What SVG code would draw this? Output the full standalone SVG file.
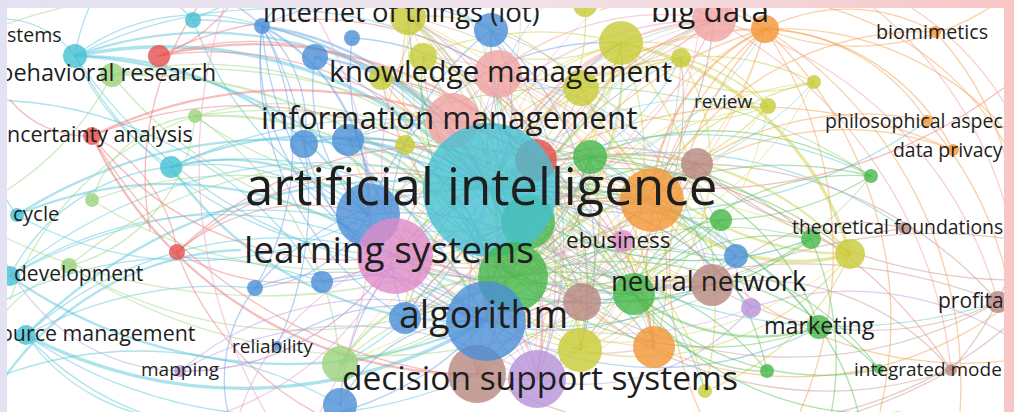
<svg xmlns="http://www.w3.org/2000/svg" width="1014" height="412" viewBox="0 0 1014 412">
<defs>
  <linearGradient id="frameFill" x1="0" y1="0" x2="1" y2="0">
    <stop offset="0" stop-color="#e3e2f3"/>
    <stop offset="0.5" stop-color="#f1e3ea"/>
    <stop offset="1" stop-color="#f8c6c6"/>
  </linearGradient>
  <clipPath id="plot"><rect x="7" y="8" width="997" height="404"/></clipPath>
</defs>
<style>
  #connectors path{fill:none;stroke-width:1.3;stroke-opacity:.5;stroke-linecap:round}
  #connectors path.m{stroke-width:2.3}
  #connectors path.t{stroke-width:3.4}
  #connectors .x path{stroke-width:1;stroke-opacity:.45}
  .cy path{stroke:#5cc8dc}
  .lg path{stroke:#9fd785}
  .rd path{stroke:#ee7b7b}
  .bl path{stroke:#6ea5e3}
  .ol path{stroke:#cfd24a}
  .or path{stroke:#f4a352}
  .lr path{stroke:#f2a3a3}
  .pk path{stroke:#ee9fcb}
  .pu path{stroke:#c0a0e2}
  .br path{stroke:#c99a92}
  .gr path{stroke:#62c360}
  .node circle{fill-opacity:.8}
  .cyn{fill:#45c1d3}.lgn{fill:#9ad37c}.rdn{fill:#e5504e}.bln{fill:#4a8fd7}
  .oln{fill:#c8cc36}.orn{fill:#f39636}.pkn{fill:#df8bc8}.lrn{fill:#f0a3a3}
  .pun{fill:#b892da}.brn{fill:#b88780}.grn{fill:#45b649}
  #labels text{font-family:"Open Sans","Noto Sans","DejaVu Sans",sans-serif;fill:#1e1e1e}
</style>

<!-- frame and white plotting area -->
<rect x="0" y="0" width="1014" height="412" fill="url(#frameFill)"/>
<rect x="7" y="8" width="997" height="404" fill="#ffffff"/>

<g clip-path="url(#plot)">
<g id="connectors">
  <g class="cy">
    <path class="t" d="M75 56A440 440 0 0 1 490 190"/>
    <path class="m" d="M75 56A340 340 0 0 1 368 215"/>
    <path d="M75 56A380 380 0 0 0 395 256"/>
    <path class="m" d="M75 56A490 490 0 0 1 486 321"/>
    <path class="m" d="M75 56A390 390 0 0 1 453 120"/>
    <path d="M75 56A500 500 0 0 0 513 277"/>
    <path d="M75 56A430 430 0 0 1 498 74"/>
    <path d="M75 56A200 200 0 0 1 262 26"/>
    <path d="M75 56A90 90 0 0 0 -10 20"/>
    <path d="M75 56A200 200 0 0 1 95 -5"/>
    <path d="M193 20A340 340 0 0 1 490 190"/>
    <path d="M193 20A300 300 0 0 1 491 30"/>
    <path d="M193 20A100 100 0 0 0 150 -10"/>
    <path d="M193 20A350 350 0 0 0 368 215"/>
    <path class="m" d="M171 167A330 330 0 0 1 490 190"/>
    <path class="m" d="M171 167A210 210 0 0 1 368 215"/>
    <path class="m" d="M171 167A360 360 0 0 0 486 321"/>
    <path d="M171 167A240 240 0 0 1 395 256"/>
    <path d="M171 167A360 360 0 0 1 513 277"/>
    <path d="M171 167A490 490 0 0 1 652 200"/>
    <path d="M171 167A200 200 0 0 0 10 276"/>
    <path d="M171 167A250 250 0 0 1 75 56"/>
    <path class="m" d="M17 215A480 480 0 0 1 490 190"/>
    <path d="M17 215A360 360 0 0 0 368 215"/>
    <path class="m" d="M17 215A390 390 0 0 1 395 256"/>
    <path d="M17 215A100 100 0 0 1 -5 140"/>
    <path d="M10 276A500 500 0 0 1 490 190"/>
    <path class="m" d="M10 276A480 480 0 0 0 486 321"/>
    <path d="M10 276A390 390 0 0 1 395 256"/>
    <path d="M10 276A510 510 0 0 1 513 277"/>
    <path class="m" d="M26 335A520 520 0 0 1 490 190"/>
    <path class="t" d="M26 335A470 470 0 0 0 486 321"/>
    <path d="M26 335A460 460 0 0 0 477 374"/>
    <path d="M26 335A380 380 0 0 1 395 256"/>
    <path d="M26 335A300 300 0 0 0 330 420"/>
    <path d="M26 335A200 200 0 0 0 180 420"/>
    <path d="M26 335A400 400 0 0 1 255 288"/>
    <path class="m" d="M-20 420A300 300 0 0 1 240 250"/>
    <path d="M-10 100A400 400 0 0 1 322 282"/>
    <path d="M5 300A400 400 0 0 1 322 282"/>
    <path d="M-10 380A400 400 0 0 1 340 405"/>
    <path d="M490 190A400 400 0 0 1 871 176"/>
    <path d="M490 190A520 520 0 0 0 998 302"/>
    <path d="M490 190A350 350 0 0 1 819 327"/>
    <path d="M490 190A420 420 0 0 1 904 228"/>
    <path d="M368 215A380 380 0 0 1 736 256"/>
    <path d="M490 190A300 300 0 0 1 751 308"/>
    <path d="M490 190A250 250 0 0 0 582 302"/>
    <path d="M490 190A300 300 0 0 1 705 391"/>
    <path d="M490 190A250 250 0 0 0 681 58"/>
    <path d="M490 190A300 300 0 0 1 340 364"/>
    <path d="M490 190A500 500 0 0 0 927 121"/>
  </g>
  <g class="lg">
    <path class="m" d="M112 75A460 460 0 0 1 513 277"/>
    <path d="M112 75A390 390 0 0 1 490 190"/>
    <path d="M112 75A420 420 0 0 0 528 222"/>
    <path d="M112 75A540 540 0 0 1 634 294"/>
    <path d="M112 75A300 300 0 0 1 -10 200"/>
    <path class="m" d="M195 116A360 360 0 0 1 513 277"/>
    <path d="M195 116A400 400 0 0 0 590 157"/>
    <path d="M195 116A460 460 0 0 1 634 294"/>
    <path d="M195 116A300 300 0 0 1 490 190"/>
    <path d="M195 116A170 170 0 0 1 69 266"/>
    <path d="M195 116A120 120 0 0 0 92 200"/>
    <path d="M195 116A330 330 0 0 1 340 364"/>
    <path d="M195 116A300 300 0 0 0 10 300"/>
    <path d="M92 200A430 430 0 0 1 513 277"/>
    <path d="M92 200A440 440 0 0 0 528 222"/>
    <path d="M69 266A450 450 0 0 0 513 277"/>
    <path d="M69 266A430 430 0 0 1 490 190"/>
    <path d="M69 266A570 570 0 0 0 634 294"/>
    <path d="M69 266A200 200 0 0 0 -10 330"/>
    <path class="m" d="M340 364A200 200 0 0 1 513 277"/>
    <path d="M340 364A320 320 0 0 1 634 294"/>
    <path d="M340 364A300 300 0 0 0 590 157"/>
    <path d="M-10 30A600 600 0 0 1 270 -5"/>
    <path d="M-10 230A600 600 0 0 0 400 280"/>
  </g>
  <g class="rd">
    <path class="m" d="M159 56A400 400 0 0 1 536 160"/>
    <path d="M159 56A350 350 0 0 1 490 190"/>
    <path d="M159 56A300 300 0 0 1 453 120"/>
    <path d="M159 56A340 340 0 0 1 498 74"/>
    <path d="M159 56A150 150 0 0 0 240 -10"/>
    <path d="M210 -10A300 300 0 0 0 150 230"/>
    <path class="m" d="M92 136A460 460 0 0 1 536 160"/>
    <path d="M92 136A400 400 0 0 1 490 190"/>
    <path class="m" d="M92 136A420 420 0 0 0 477 374"/>
    <path d="M92 136A320 320 0 0 0 395 256"/>
    <path d="M92 136A150 150 0 0 1 177 252"/>
    <path d="M92 136A500 500 0 0 0 537 379"/>
    <path d="M92 136A100 100 0 0 1 10 100"/>
    <path d="M177 252A370 370 0 0 1 536 160"/>
    <path d="M177 252A320 320 0 0 1 490 190"/>
    <path d="M177 252A220 220 0 0 0 395 256"/>
    <path d="M177 252A200 200 0 0 1 368 215"/>
    <path d="M177 252A300 300 0 0 0 330 420"/>
    <path d="M536 160A460 460 0 0 1 951 370"/>
    <path d="M536 160A500 500 0 0 0 1014 80"/>
    <path d="M536 160A250 250 0 0 1 405 318"/>
    <path d="M536 160A250 250 0 0 0 381 78"/>
    <path d="M536 160A250 250 0 0 1 654 347"/>
  </g>
  <g class="bl">
    <path class="m" d="M262 26A300 300 0 0 1 490 190"/>
    <path d="M262 26A340 340 0 0 0 486 321"/>
    <path class="m" d="M262 26A200 200 0 0 1 368 215"/>
    <path d="M262 26A270 270 0 0 1 255 288"/>
    <path d="M262 26A330 330 0 0 1 513 277"/>
    <path d="M262 26A220 220 0 0 0 395 256"/>
    <path d="M262 26A130 130 0 0 1 304 144"/>
    <path d="M262 26A250 250 0 0 1 491 30"/>
    <path d="M262 26A300 300 0 0 0 405 318"/>
    <path d="M262 26A150 150 0 0 0 200 -10"/>
    <path d="M262 26A100 100 0 0 1 300 -10"/>
    <path d="M262 26A350 350 0 0 1 277 346"/>
    <path class="m" d="M315 57A220 220 0 0 1 490 190"/>
    <path d="M315 57A300 300 0 0 1 486 321"/>
    <path d="M315 57A180 180 0 0 0 368 215"/>
    <path class="m" d="M304 144A200 200 0 0 1 490 190"/>
    <path d="M304 144A250 250 0 0 0 486 321"/>
    <path d="M255 288A240 240 0 0 1 486 321"/>
    <path d="M255 288A280 280 0 0 1 490 190"/>
    <path d="M255 288A140 140 0 0 0 368 215"/>
    <path d="M255 288A150 150 0 0 0 230 420"/>
    <path d="M322 282A170 170 0 0 1 486 321"/>
    <path d="M322 282A200 200 0 0 0 490 190"/>
    <path d="M277 346A220 220 0 0 1 486 321"/>
    <path d="M340 405A150 150 0 0 1 486 321"/>
    <path d="M340 405A250 250 0 0 1 490 190"/>
    <path d="M736 256A260 260 0 0 1 486 321"/>
    <path d="M736 256A260 260 0 0 0 490 190"/>
    <path d="M486 321A340 340 0 0 0 819 327"/>
    <path class="m" d="M348 140A150 150 0 0 1 486 321"/>
    <path d="M491 30A160 160 0 0 1 490 190"/>
    <path d="M352 38A300 300 0 0 0 486 321"/>
    <path d="M491 30A300 300 0 0 1 580 350"/>
    <path d="M491 30A250 250 0 0 0 405 318"/>
    <path d="M352 38A250 250 0 0 1 580 350"/>
    <path d="M348 140A300 300 0 0 1 652 200"/>
    <path d="M368 215A300 300 0 0 1 654 347"/>
    <path d="M368 215A250 250 0 0 1 621 43"/>
    <path d="M405 318A250 250 0 0 1 652 200"/>
    <path d="M486 321A300 300 0 0 1 300 420"/>
  </g>
  <g class="ol">
    <path class="t" d="M850 254A300 300 0 0 0 621 43"/>
    <path class="m" d="M850 254A300 300 0 0 1 581 88"/>
    <path d="M850 254A270 270 0 0 1 580 350"/>
    <path d="M850 254A370 370 0 0 0 490 190"/>
    <path class="t" d="M850 254A200 200 0 0 1 652 200"/>
    <path class="m" d="M850 254A300 300 0 0 0 590 157"/>
    <path d="M850 254A260 260 0 0 1 705 391"/>
    <path d="M814 82A200 200 0 0 1 621 43"/>
    <path d="M814 82A250 250 0 0 0 581 88"/>
    <path d="M814 82A300 300 0 0 0 580 350"/>
    <path d="M768 106A160 160 0 0 0 621 43"/>
    <path d="M768 106A200 200 0 0 1 581 88"/>
    <path d="M768 106A300 300 0 0 1 490 190"/>
    <path d="M768 106A200 200 0 0 0 681 58"/>
    <path class="m" d="M621 43A200 200 0 0 1 490 190"/>
    <path d="M621 43A300 300 0 0 0 486 321"/>
    <path d="M621 43A250 250 0 0 1 513 277"/>
    <path d="M621 43A310 310 0 0 1 580 350"/>
    <path d="M408 17A200 200 0 0 1 490 190"/>
    <path d="M408 17A320 320 0 0 1 486 321"/>
    <path d="M408 17A220 220 0 0 0 621 43"/>
    <path d="M408 17A200 200 0 0 1 581 88"/>
    <path d="M408 17A300 300 0 0 0 580 350"/>
    <path d="M423 57A250 250 0 0 1 580 350"/>
    <path d="M381 78A300 300 0 0 1 621 43"/>
    <path d="M705 391A400 400 0 0 0 621 43"/>
    <path d="M705 391A250 250 0 0 0 490 190"/>
    <path d="M580 350A200 200 0 0 0 490 190"/>
    <path d="M405 145A200 200 0 0 1 580 350"/>
    <path d="M585 5A200 200 0 0 1 490 190"/>
    <path d="M681 58A200 200 0 0 1 580 350"/>
    <path d="M580 350A300 300 0 0 1 348 140"/>
    <path d="M580 350A300 300 0 0 0 697 164"/>
    <path d="M621 43A300 300 0 0 0 405 318"/>
    <path d="M681 58A350 350 0 0 0 405 318"/>
  </g>
  <g class="or">
    <path d="M765 29A180 180 0 0 1 935 32"/>
    <path d="M765 29A200 200 0 0 1 927 121"/>
    <path d="M765 29A220 220 0 0 1 953 150"/>
    <path class="m" d="M765 29A200 200 0 0 0 652 200"/>
    <path d="M765 29A320 320 0 0 0 654 347"/>
    <path d="M765 29A300 300 0 0 1 1014 140"/>
    <path d="M765 29A250 250 0 0 0 1014 -10"/>
    <path d="M765 29A300 300 0 0 0 490 190"/>
    <path d="M765 29A400 400 0 0 0 486 321"/>
    <path d="M765 29A400 400 0 0 1 880 412"/>
    <path d="M765 29A420 420 0 0 1 960 412"/>
    <path d="M765 29A400 400 0 0 1 800 412"/>
    <path d="M765 29A350 350 0 0 0 700 412"/>
    <path d="M765 29A150 150 0 0 0 680 -10"/>
    <path d="M765 29A200 200 0 0 0 600 10"/>
    <path d="M935 32A300 300 0 0 1 1014 200"/>
    <path d="M927 121A300 300 0 0 0 652 200"/>
    <path d="M927 121A350 350 0 0 1 1014 330"/>
    <path d="M953 150A300 300 0 0 0 652 200"/>
    <path d="M953 150A470 470 0 0 0 490 190"/>
    <path d="M652 200A200 200 0 0 1 654 347"/>
    <path d="M652 200A200 200 0 0 0 486 321"/>
    <path d="M654 347A350 350 0 0 0 1014 300"/>
    <path d="M652 200A380 380 0 0 0 1014 360"/>
    <path d="M652 200A300 300 0 0 1 935 32"/>
    <path d="M700 0A300 300 0 0 1 1014 160"/>
    <path d="M654 347A300 300 0 0 1 490 190"/>
    <path d="M652 200A250 250 0 0 0 405 318"/>
    <path d="M652 200A300 300 0 0 1 381 78"/>
    <path d="M654 347A300 300 0 0 0 498 74"/>
  </g>
  <g class="lr">
    <path class="m" d="M714 20A250 250 0 0 0 490 190"/>
    <path d="M714 20A260 260 0 0 0 453 120"/>
    <path d="M714 20A300 300 0 0 0 513 277"/>
    <path d="M714 20A350 350 0 0 0 486 321"/>
    <path d="M714 20A250 250 0 0 1 498 74"/>
    <path d="M714 20A400 400 0 0 1 998 302"/>
    <path d="M714 20A450 450 0 0 1 951 370"/>
    <path d="M714 20A200 200 0 0 0 600 -10"/>
    <path d="M453 120A200 200 0 0 1 486 321"/>
    <path d="M453 120A150 150 0 0 0 395 256"/>
    <path d="M498 74A250 250 0 0 1 486 321"/>
    <path d="M453 120A300 300 0 0 1 654 347"/>
    <path d="M453 120A250 250 0 0 0 712 285"/>
    <path d="M498 74A300 300 0 0 1 652 200"/>
    <path d="M850 -10A400 400 0 0 1 1014 240"/>
    <path d="M880 -10A300 300 0 0 1 1014 120"/>
  </g>
  <g class="pk">
    <path d="M714 20A330 330 0 0 0 395 256"/>
    <path class="m" d="M395 256A150 150 0 0 1 537 379"/>
    <path d="M395 256A200 200 0 0 0 513 277"/>
    <path d="M395 256A250 250 0 0 1 180 371"/>
    <path d="M395 256A250 250 0 0 0 240 412"/>
    <path d="M395 256A300 300 0 0 1 200 420"/>
    <path d="M623 241A200 200 0 0 0 490 190"/>
    <path d="M623 241A250 250 0 0 1 395 256"/>
    <path d="M300 -10A400 400 0 0 1 320 412"/>
    <path d="M395 256A300 300 0 0 1 697 164"/>
    <path d="M395 256A260 260 0 0 0 654 347"/>
    <path d="M230 -10A500 500 0 0 0 270 420"/>
    <path d="M395 256A300 300 0 0 1 440 -10"/>
  </g>
  <g class="pu">
    <path d="M180 371A350 350 0 0 1 537 379"/>
    <path d="M180 371A300 300 0 0 1 486 321"/>
    <path d="M180 371A250 250 0 0 0 395 256"/>
    <path d="M180 371A200 200 0 0 1 0 250"/>
    <path d="M751 308A220 220 0 0 1 537 379"/>
    <path d="M751 308A300 300 0 0 0 490 190"/>
    <path d="M751 308A300 300 0 0 1 1014 340"/>
    <path d="M537 379A220 220 0 0 0 490 190"/>
    <path d="M537 379A180 180 0 0 1 486 321"/>
    <path d="M537 379A250 250 0 0 1 621 43"/>
    <path d="M537 379A300 300 0 0 0 408 17"/>
  </g>
  <g class="br">
    <path d="M998 302A300 300 0 0 1 712 285"/>
    <path d="M998 302A420 420 0 0 1 582 302"/>
    <path d="M998 302A530 530 0 0 0 477 374"/>
    <path d="M998 302A400 400 0 0 0 697 164"/>
    <path d="M951 370A250 250 0 0 0 712 285"/>
    <path d="M951 370A380 380 0 0 1 582 302"/>
    <path d="M951 370A480 480 0 0 1 477 374"/>
    <path d="M904 228A200 200 0 0 0 712 285"/>
    <path d="M904 228A220 220 0 0 1 697 164"/>
    <path d="M697 164A210 210 0 0 0 490 190"/>
    <path d="M697 164A280 280 0 0 1 486 321"/>
    <path d="M712 285A230 230 0 0 1 490 190"/>
    <path d="M712 285A240 240 0 0 0 477 374"/>
    <path d="M477 374A100 100 0 0 1 582 302"/>
    <path d="M582 302A150 150 0 0 0 490 190"/>
    <path d="M712 285A500 500 0 0 1 1014 240"/>
    <path d="M697 164A500 500 0 0 0 1014 280"/>
    <path d="M951 370A300 300 0 0 0 1014 260"/>
    <path d="M700 420A400 400 0 0 0 1014 320"/>
    <path d="M477 374A300 300 0 0 1 621 43"/>
    <path d="M477 374A300 300 0 0 0 408 17"/>
    <path d="M582 302A300 300 0 0 1 381 78"/>
  </g>
  <g class="gr">
    <path d="M871 176A260 260 0 0 0 634 294"/>
    <path d="M871 176A380 380 0 0 0 513 277"/>
    <path d="M871 176A300 300 0 0 0 590 157"/>
    <path d="M811 239A200 200 0 0 0 634 294"/>
    <path d="M811 239A300 300 0 0 1 513 277"/>
    <path d="M811 239A300 300 0 0 0 590 157"/>
    <path d="M811 239A330 330 0 0 1 490 190"/>
    <path class="m" d="M819 327A200 200 0 0 1 634 294"/>
    <path d="M819 327A310 310 0 0 1 513 277"/>
    <path d="M819 327A340 340 0 0 0 490 190"/>
    <path d="M819 327A250 250 0 0 0 590 157"/>
    <path d="M767 371A150 150 0 0 1 634 294"/>
    <path d="M767 371A260 260 0 0 0 513 277"/>
    <path d="M879 369A260 260 0 0 1 634 294"/>
    <path d="M879 369A370 370 0 0 0 513 277"/>
    <path d="M721 220A200 200 0 0 1 513 277"/>
    <path d="M721 220A100 100 0 0 0 634 294"/>
    <path class="m" d="M634 294A150 150 0 0 1 490 190"/>
    <path d="M590 157A120 120 0 0 1 513 277"/>
    <path d="M819 327A250 250 0 0 1 860 420"/>
    <path d="M811 239A300 300 0 0 1 830 420"/>
    <path d="M634 294A300 300 0 0 0 900 412"/>
    <path d="M590 157A300 300 0 0 1 767 371"/>
    <path d="M513 277A300 300 0 0 1 879 369"/>
    <path d="M721 220A300 300 0 0 0 871 176"/>
    <path d="M590 157A250 250 0 0 0 395 256"/>
    <path d="M513 277A250 250 0 0 1 423 57"/>
    <path d="M634 294A300 300 0 0 1 408 17"/>
    <path d="M634 294A300 300 0 0 0 348 140"/>
    <path d="M528 222A250 250 0 0 1 697 164"/>
  </g>

  <!-- thin links among the central terms -->
  <g class="x ol">
    <path d="M621 43A350 350 0 0 1 405 318"/>
    <path d="M621 43A311 311 0 0 0 395 256"/>
    <path d="M621 43A427 427 0 0 1 340 364"/>
    <path d="M581 88A262 262 0 0 1 395 256"/>
    <path d="M581 88A304 304 0 0 0 477 374"/>
    <path d="M581 88A294 294 0 0 1 537 379"/>
    <path d="M681 58A327 327 0 0 0 486 321"/>
    <path d="M681 58A340 340 0 0 1 537 379"/>
    <path d="M681 58A345 345 0 0 0 395 256"/>
    <path d="M423 57A371 371 0 0 1 654 347"/>
    <path d="M423 57A368 368 0 0 0 712 285"/>
    <path d="M381 78A297 297 0 0 1 652 200"/>
    <path d="M381 78A333 333 0 0 0 634 294"/>
    <path d="M408 17A415 415 0 0 1 654 347"/>
    <path d="M408 17A408 408 0 0 0 712 285"/>
    <path d="M580 350A332 332 0 0 1 491 30"/>
    <path d="M580 350A331 331 0 0 0 381 78"/>
    <path d="M580 350A378 378 0 0 1 408 17"/>
    <path d="M768 106A355 355 0 0 0 486 321"/>
    <path d="M768 106A394 394 0 0 1 395 256"/>
    <path d="M768 106A357 357 0 0 1 537 379"/>
    <path d="M814 82A405 405 0 0 0 486 321"/>
    <path d="M814 82A358 358 0 0 1 513 277"/>
    <path d="M850 254A369 369 0 0 1 486 321"/>
    <path d="M850 254A455 455 0 0 0 395 256"/>
  </g>
  <g class="x gr">
    <path d="M590 157A230 230 0 0 0 368 215"/>
    <path d="M590 157A325 325 0 0 1 340 364"/>
    <path d="M590 157A231 231 0 0 1 537 379"/>
    <path d="M634 294A306 306 0 0 1 491 30"/>
    <path d="M634 294A343 343 0 0 0 381 78"/>
    <path d="M513 277A260 260 0 0 0 621 43"/>
    <path d="M513 277A332 332 0 0 1 714 20"/>
    <path d="M721 220A250 250 0 0 0 486 321"/>
    <path d="M721 220A330 330 0 0 1 395 256"/>
    <path d="M811 239A341 341 0 0 0 486 321"/>
    <path d="M811 239A416 416 0 0 1 395 256"/>
    <path d="M871 176A410 410 0 0 1 486 321"/>
    <path d="M871 176A525 525 0 0 0 348 140"/>
    <path d="M513 277A283 283 0 0 0 408 17"/>
    <path d="M634 294A262 262 0 0 1 498 74"/>
  </g>
  <g class="x or">
    <path d="M652 200A264 264 0 0 1 395 256"/>
    <path d="M652 200A285 285 0 0 0 368 215"/>
    <path d="M652 200A220 220 0 0 1 537 379"/>
    <path d="M652 200A355 355 0 0 0 340 364"/>
    <path d="M654 347A357 357 0 0 1 348 140"/>
    <path d="M654 347A371 371 0 0 0 423 57"/>
    <path d="M652 200A198 198 0 0 1 498 74"/>
    <path d="M652 200A276 276 0 0 0 423 57"/>
    <path d="M765 29A413 413 0 0 1 486 321"/>
    <path d="M765 29A438 438 0 0 0 395 256"/>
    <path d="M765 29A350 350 0 0 1 513 277"/>
    <path d="M765 29A412 412 0 0 0 537 379"/>
  </g>
  <g class="x bl">
    <path d="M491 30A352 352 0 0 1 537 379"/>
    <path d="M491 30A352 352 0 0 0 654 347"/>
    <path d="M491 30A342 342 0 0 1 712 285"/>
    <path d="M348 140A327 327 0 0 0 634 294"/>
    <path d="M348 140A307 307 0 0 1 537 379"/>
    <path d="M368 215A351 351 0 0 0 712 285"/>
    <path d="M405 318A242 242 0 0 0 590 157"/>
    <path d="M736 256A341 341 0 0 1 395 256"/>
    <path d="M736 256A312 312 0 0 0 498 74"/>
    <path d="M736 256A362 362 0 0 1 423 57"/>
    <path d="M486 321A358 358 0 0 0 714 20"/>
    <path d="M486 321A327 327 0 0 1 681 58"/>
  </g>
  <g class="x lr">
    <path d="M498 74A306 306 0 0 1 537 379"/>
    <path d="M498 74A303 303 0 0 0 712 285"/>
    <path d="M498 74A207 207 0 0 1 395 256"/>
    <path d="M453 120A293 293 0 0 0 712 285"/>
    <path d="M453 120A270 270 0 0 1 537 379"/>
    <path d="M714 20A395 395 0 0 1 395 256"/>
    <path d="M714 20A358 358 0 0 1 486 321"/>
    <path d="M714 20A392 392 0 0 0 537 379"/>
    <path d="M714 20A423 423 0 0 0 405 318"/>
  </g>
  <g class="x br">
    <path d="M697 164A322 322 0 0 1 395 256"/>
    <path d="M697 164A263 263 0 0 0 537 379"/>
    <path d="M582 302A290 290 0 0 1 423 57"/>
    <path d="M582 302A326 326 0 0 0 408 17"/>
    <path d="M712 285A392 392 0 0 1 348 140"/>
    <path d="M477 374A362 362 0 0 0 681 58"/>
    <path d="M477 374A420 420 0 0 1 714 20"/>
    <path d="M712 285A408 408 0 0 0 408 17"/>
  </g>
  <g class="x pu">
    <path d="M537 379A306 306 0 0 1 498 74"/>
    <path d="M537 379A340 340 0 0 0 681 58"/>
    <path d="M751 308A358 358 0 0 1 395 256"/>
    <path d="M751 308A344 344 0 0 0 498 74"/>
    <path d="M537 379A238 238 0 0 1 368 215"/>
  </g>
  <g class="x cy">
    <path d="M490 190A227 227 0 0 1 654 347"/>
    <path d="M490 190A241 241 0 0 0 712 285"/>
    <path d="M490 190A366 366 0 0 1 850 254"/>
    <path d="M490 190A328 328 0 0 0 811 239"/>
    <path d="M490 190A294 294 0 0 1 768 106"/>
    <path d="M490 190A351 351 0 0 0 814 82"/>
    <path d="M490 190A277 277 0 0 1 714 20"/>
    <path d="M490 190A319 319 0 0 0 765 29"/>
    <path d="M490 190A220 220 0 0 0 450 -10"/>
    <path d="M490 190A220 220 0 0 1 560 -10"/>
  </g>
  <g class="x pk">
    <path d="M395 256A264 264 0 0 0 652 200"/>
    <path d="M395 256A245 245 0 0 1 634 294"/>
    <path d="M395 256A262 262 0 0 0 581 88"/>
    <path d="M395 256A318 318 0 0 1 712 285"/>
    <path d="M623 241A157 157 0 0 1 486 321"/>
    <path d="M623 241A206 206 0 0 0 498 74"/>
    <path d="M395 256A395 395 0 0 0 714 20"/>
    <path d="M395 256A300 300 0 0 0 520 -10"/>
    <path d="M486 321A340 340 0 0 1 620 -10"/>
    <path d="M537 379A400 400 0 0 0 380 -10"/>
    <path d="M513 277A300 300 0 0 0 700 -10"/>
  </g>
</g>

<g id="n-systems" class="node"><circle class="cyn" cx="75" cy="56" r="12"/></g>
<g id="n-r1" class="node"><circle class="rdn" cx="159" cy="56" r="11"/></g>
<g id="n-behavioral" class="node"><circle class="lgn" cx="112" cy="75" r="12"/></g>
<g id="n-c1" class="node"><circle class="cyn" cx="193" cy="20" r="8"/></g>
<g id="n-b1" class="node"><circle class="bln" cx="262" cy="26" r="8"/></g>
<g id="n-b2" class="node"><circle class="bln" cx="315" cy="57" r="13"/></g>
<g id="n-g1" class="node"><circle class="lgn" cx="195" cy="116" r="7"/></g>
<g id="n-uncertainty" class="node"><circle class="rdn" cx="92" cy="136" r="9"/></g>
<g id="n-b3" class="node"><circle class="bln" cx="304" cy="144" r="14"/></g>
<g id="n-c2" class="node"><circle class="cyn" cx="171" cy="167" r="11"/></g>
<g id="n-g2" class="node"><circle class="lgn" cx="92" cy="200" r="7"/></g>
<g id="n-cycle" class="node"><circle class="cyn" cx="17" cy="215" r="7"/></g>
<g id="n-r2" class="node"><circle class="rdn" cx="177" cy="252" r="8"/></g>
<g id="n-development" class="node"><circle class="lgn" cx="69" cy="266" r="8"/></g>
<g id="n-c3" class="node"><circle class="cyn" cx="10" cy="276" r="10"/></g>
<g id="n-b4" class="node"><circle class="bln" cx="255" cy="288" r="8"/></g>
<g id="n-b5" class="node"><circle class="bln" cx="322" cy="282" r="11"/></g>
<g id="n-resource" class="node"><circle class="cyn" cx="26" cy="335" r="10"/></g>
<g id="n-mapping" class="node"><circle class="pun" cx="180" cy="371" r="6"/></g>
<g id="n-reliability" class="node"><circle class="bln" cx="277" cy="346" r="5"/></g>
<g id="n-g3" class="node"><circle class="lgn" cx="340" cy="364" r="18"/></g>
<g id="n-b6" class="node"><circle class="bln" cx="340" cy="405" r="17"/></g>

<g id="n-b7" class="node"><circle class="bln" cx="352" cy="38" r="8"/></g>
<g id="n-iot" class="node"><circle class="oln" cx="408" cy="17" r="18"/></g>
<g id="n-b8" class="node"><circle class="bln" cx="491" cy="30" r="17"/></g>
<g id="n-o1" class="node"><circle class="oln" cx="585" cy="5" r="12"/></g>
<g id="n-o2" class="node"><circle class="oln" cx="423" cy="57" r="14"/></g>
<g id="n-o3" class="node"><circle class="oln" cx="381" cy="78" r="12"/></g>
<g id="n-knowledge" class="node"><circle class="lrn" cx="498" cy="74" r="24"/></g>
<g id="n-o4" class="node"><circle class="oln" cx="621" cy="43" r="22"/></g>
<g id="n-o5" class="node"><circle class="oln" cx="581" cy="88" r="18"/></g>
<g id="n-o6" class="node"><circle class="oln" cx="681" cy="58" r="10"/></g>
<g id="n-bigdata" class="node"><circle class="lrn" cx="714" cy="20" r="22"/></g>
<g id="n-or1" class="node"><circle class="orn" cx="765" cy="29" r="14"/></g>
<g id="n-information" class="node"><circle class="lrn" cx="453" cy="120" r="27"/></g>
<g id="n-b9" class="node"><circle class="bln" cx="348" cy="140" r="16"/></g>
<g id="n-o7" class="node"><circle class="oln" cx="405" cy="145" r="10"/></g>
<g id="n-r3" class="node"><circle class="rdn" cx="536" cy="160" r="21"/></g>
<g id="n-g4" class="node"><circle class="grn" cx="528" cy="222" r="27"/></g>
<g id="n-ai" class="node"><circle class="cyn" cx="490" cy="190" r="67"/></g>
<g id="n-g5" class="node"><circle class="grn" cx="590" cy="157" r="17"/></g>
<g id="n-br1" class="node"><circle class="brn" cx="697" cy="164" r="16"/></g>
<g id="n-or2" class="node"><circle class="orn" cx="652" cy="200" r="32"/></g>
<g id="n-b10" class="node"><circle class="bln" cx="368" cy="215" r="32"/></g>
<g id="n-g6" class="node"><circle class="grn" cx="513" cy="277" r="35"/></g>
<g id="n-learning" class="node"><circle class="pkn" cx="395" cy="256" r="38"/></g>
<g id="n-ebusiness" class="node"><circle class="pkn" cx="623" cy="241" r="11"/></g>
<g id="n-g7" class="node"><circle class="grn" cx="721" cy="220" r="11"/></g>
<g id="n-b11" class="node"><circle class="bln" cx="736" cy="256" r="12"/></g>
<g id="n-neural" class="node"><circle class="brn" cx="712" cy="285" r="21"/></g>
<g id="n-g8" class="node"><circle class="grn" cx="634" cy="294" r="21"/></g>
<g id="n-br2" class="node"><circle class="brn" cx="582" cy="302" r="19"/></g>
<g id="n-p1" class="node"><circle class="pun" cx="751" cy="308" r="10"/></g>
<g id="n-b12" class="node"><circle class="bln" cx="405" cy="318" r="16"/></g>
<g id="n-br3" class="node"><circle class="brn" cx="477" cy="374" r="29"/></g>
<g id="n-algorithm" class="node"><circle class="bln" cx="486" cy="321" r="40"/></g>
<g id="n-decision" class="node"><circle class="pun" cx="537" cy="379" r="29"/></g>
<g id="n-o8" class="node"><circle class="oln" cx="580" cy="350" r="22"/></g>
<g id="n-or3" class="node"><circle class="orn" cx="654" cy="347" r="21"/></g>

<g id="n-o9" class="node"><circle class="oln" cx="814" cy="82" r="7"/></g>
<g id="n-review" class="node"><circle class="oln" cx="768" cy="106" r="8"/></g>
<g id="n-biomimetics" class="node"><circle class="orn" cx="935" cy="32" r="6"/></g>
<g id="n-philosophical" class="node"><circle class="orn" cx="927" cy="121" r="6"/></g>
<g id="n-privacy" class="node"><circle class="orn" cx="953" cy="150" r="6"/></g>
<g id="n-g9" class="node"><circle class="grn" cx="871" cy="176" r="7"/></g>
<g id="n-theoretical" class="node"><circle class="brn" cx="904" cy="228" r="6"/></g>
<g id="n-g10" class="node"><circle class="grn" cx="811" cy="239" r="10"/></g>
<g id="n-o10" class="node"><circle class="oln" cx="850" cy="254" r="15"/></g>
<g id="n-marketing" class="node"><circle class="grn" cx="819" cy="327" r="12"/></g>
<g id="n-g11" class="node"><circle class="grn" cx="767" cy="371" r="7"/></g>
<g id="n-o11" class="node"><circle class="oln" cx="705" cy="391" r="7"/></g>
<g id="n-g12" class="node"><circle class="grn" cx="879" cy="369" r="5"/></g>
<g id="n-integrated" class="node"><circle class="brn" cx="951" cy="370" r="6"/></g>
<g id="n-profitability" class="node"><circle class="brn" cx="998" cy="302" r="11"/></g>

<g id="labels">
  <text x="7" y="42" font-size="19.5">stems</text>
  <text x="-1" y="81" font-size="23.5">behavioral research</text>
  <text x="7" y="142" font-size="21.5">ncertainty analysis</text>
  <text x="13" y="221" font-size="20.5">cycle</text>
  <text x="14" y="281" font-size="21">development</text>
  <text x="0" y="341" font-size="21.4">ource management</text>
  <text x="141" y="376" font-size="19">mapping</text>
  <text x="232" y="353" font-size="19">reliability</text>
  <text x="263" y="22" font-size="27.4">internet of things (iot)</text>
  <text x="651" y="22" font-size="31.5">big data</text>
  <text x="329" y="82" font-size="29.8">knowledge management</text>
  <text x="261" y="129" font-size="31.4">information management</text>
  <text x="245" y="205" font-size="51">artificial intelligence</text>
  <text x="244" y="263" font-size="37">learning systems</text>
  <text x="566" y="248" font-size="22.5">ebusiness</text>
  <text x="611" y="291" font-size="27.5">neural network</text>
  <text x="399" y="328" font-size="37.5">algorithm</text>
  <text x="342" y="390" font-size="33.5">decision support systems</text>
  <text x="764" y="334" font-size="23.3">marketing</text>
  <text x="792" y="234" font-size="19.4">theoretical foundations</text>
  <text x="938" y="308" font-size="21">profita</text>
  <text x="854" y="376" font-size="19">integrated mode</text>
  <text x="694" y="108" font-size="19">review</text>
  <text x="876" y="39" font-size="19.7">biomimetics</text>
  <text x="825" y="128" font-size="19.5">philosophical aspec</text>
  <text x="893" y="157" font-size="19.4">data privacy</text>
</g>
</g>
</svg>
